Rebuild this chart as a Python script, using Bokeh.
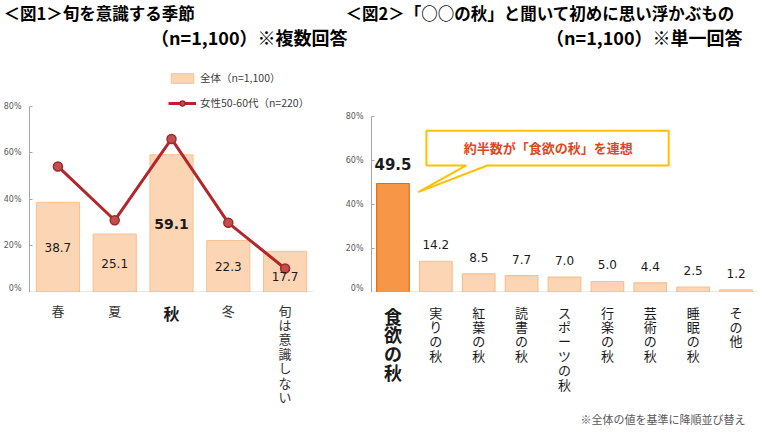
from bokeh.plotting import figure
from bokeh.models import (Range1d, FixedTicker, PrintfTickFormatter, Label,
                          Legend, LegendItem, PolyAnnotation)
from bokeh.layouts import row, column
from bokeh.embed import file_html
from bokeh.resources import INLINE

# ---------------- data ----------------
seasons = ["春", "夏", "秋", "冬", "旬は意識しない"]
season_all = [38.7, 25.1, 59.1, 22.3, 17.7]
season_women = [54.1, 31.0, 65.9, 29.9, 10.3]

autumn_items = ["食欲の秋", "実りの秋", "紅葉の秋", "読書の秋", "スポーツの秋",
                "行楽の秋", "芸術の秋", "睡眠の秋", "その他"]
autumn_values = [49.5, 14.2, 8.5, 7.7, 7.0, 5.0, 4.4, 2.5, 1.2]

pct_ticks = [0, 20, 40, 60, 80]

JP = "Noto Sans CJK JP"
NUM = "DejaVu Sans"
AXIS = "#A6A6A6"
LIGHT = "#FCD5B5"
LIGHT_LINE = "#F9C08F"
DARK = "#F79646"
DARK_LINE = "#E46C0A"

W1, W2 = 342, 417
H_TOP, H_CHART, H_LAB = 52, 240, 142
BL1, BR1 = 28, 29
BL2, BR2 = 28, 2


def text_fig(width, height, x_range=None, bl=0, br=0):
    xr = x_range if x_range is not None else Range1d(0, width)
    p = figure(width=width, height=height, x_range=xr,
               y_range=Range1d(height, 0), output_backend="svg",
               toolbar_location=None, x_axis_type=None, y_axis_type=None,
               min_border_left=bl, min_border_right=br,
               min_border_top=0, min_border_bottom=0)
    p.xgrid.visible = False
    p.ygrid.visible = False
    p.outline_line_color = None
    return p


def chart_fig(width, n, ymax, bl, br, standoff):
    p = figure(width=width, height=H_CHART, x_range=Range1d(0, n),
               y_range=Range1d(0, ymax), output_backend="svg",
               toolbar_location=None, min_border_left=bl, min_border_right=br,
               min_border_top=0, min_border_bottom=0)
    p.xgrid.visible = False
    p.ygrid.visible = False
    p.outline_line_color = None
    p.yaxis.ticker = FixedTicker(ticks=pct_ticks)
    p.yaxis.bounds = (0, 80)
    p.yaxis.formatter = PrintfTickFormatter(format="%d%%")
    p.yaxis.major_label_text_font = NUM
    p.yaxis.major_label_text_font_size = "8px"
    p.yaxis.major_label_text_color = "#595959"
    p.yaxis.major_label_standoff = standoff
    p.yaxis.axis_line_color = AXIS
    p.yaxis.major_tick_line_color = AXIS
    p.yaxis.major_tick_in = 3
    p.yaxis.major_tick_out = 0
    p.yaxis.minor_tick_line_color = None
    p.xaxis.ticker = FixedTicker(ticks=[])
    p.xaxis.axis_line_color = AXIS
    p.xaxis.axis_line_width = 1.5
    p.xaxis.major_label_text_font_size = "0px"
    p.xaxis.major_label_standoff = 0
    p.xaxis.major_tick_out = 0
    p.xaxis.major_tick_in = 0
    p.xaxis.minor_tick_line_color = None
    return p


def vertical(s):
    return "\n".join(list(s)) if len(s) > 1 else s


# ---------------- titles (one full-width strip) ----------------
top = text_fig(W1 + W2, H_TOP)
for x, txt in [(3, "＜図1＞旬を意識する季節"),
               (345, "＜図2＞「○○の秋」と聞いて初めに思い浮かぶもの")]:
    top.add_layout(Label(x=x, y=12, text=txt, text_baseline="middle",
                         text_font=JP, text_font_size="16.5px",
                         text_font_style="bold", text_color="#000000"))
for x, txt in [(347, "（n=1,100）※複数回答"), (742, "（n=1,100）※単一回答")]:
    top.add_layout(Label(x=x, y=36, text=txt, text_align="right",
                         text_baseline="middle", text_font=JP,
                         text_font_size="18px", text_font_style="bold",
                         text_color="#000000"))

# ---------------- chart 1 ----------------
n1 = len(seasons)
x1 = [i + 0.5 for i in range(n1)]
p1 = chart_fig(W1, n1, 103, BL1, BR1, 8)

bars1 = p1.vbar(x=x1, top=season_all, width=0.76, fill_color=LIGHT,
                line_color=LIGHT_LINE, line_width=1)
ln = p1.line(x1, season_women, line_color="#B3262C", line_width=3)
sc = p1.scatter(x1, season_women, size=9, fill_color="#C0504D",
                line_color="#A3262A", line_width=1.5)

legend = Legend(items=[LegendItem(label="全体（n=1,100）", renderers=[bars1]),
                       LegendItem(label="女性50-60代（n=220）", renderers=[ln, sc])],
                location=(139, 182), orientation="vertical",
                glyph_width=28, glyph_height=12, label_height=12,
                label_standoff=4, spacing=10, padding=0, margin=0,
                border_line_color=None, background_fill_alpha=0,
                label_text_font=JP, label_text_font_size="10.5px",
                label_text_color="#404040")
p1.add_layout(legend)

imax1 = season_all.index(max(season_all))
for i, v in enumerate(season_all):
    big = i == imax1
    p1.add_layout(Label(x=x1[i], y=v / 2, text=f"{v:.1f}", text_align="center",
                        text_baseline="middle", text_font=NUM,
                        text_font_size="14px" if big else "12px",
                        text_font_style="bold" if big else "normal",
                        text_color="#1a1a1a",
                        y_offset=-5 if i == n1 - 1 else 0))

l1 = text_fig(W1, H_LAB, x_range=p1.x_range, bl=BL1, br=BR1)
for i, s in enumerate(seasons):
    big = i == imax1
    l1.add_layout(Label(x=x1[i], y=8, text=vertical(s),
                        text_align="center", text_baseline="top",
                        text_line_height=0.76, text_font=JP,
                        text_font_size="16px" if big else "13px",
                        text_font_style="bold" if big else "normal",
                        text_color="#1a1a1a" if big else "#333333"))

# ---------------- chart 2 ----------------
n2 = len(autumn_items)
x2 = [i + 0.5 for i in range(n2)]
p2 = chart_fig(W2, n2, 109, BL2, BR2, 8)

imax2 = autumn_values.index(max(autumn_values))
fills = [DARK if i == imax2 else LIGHT for i in range(n2)]
lines = [DARK_LINE if i == imax2 else LIGHT_LINE for i in range(n2)]
p2.vbar(x=x2, top=autumn_values, width=0.76, fill_color=fills,
        line_color=lines, line_width=1.2)

for i, v in enumerate(autumn_values):
    big = i == imax2
    p2.add_layout(Label(x=x2[i], y=v, text=f"{v:.1f}", text_align="center",
                        text_baseline="bottom", text_font=NUM,
                        text_font_size="15px" if big else "12px",
                        text_font_style="bold" if big else "normal",
                        text_color="#1a1a1a", y_offset=14 if big else 12))

# callout pointing at the top bar
p2.add_layout(PolyAnnotation(xs=[1.28, 6.93, 6.93, 2.70, 1.09, 2.21, 1.28],
                             ys=[73.5, 73.5, 57.7, 57.7, 45.6, 57.7, 57.7],
                             fill_color="white", fill_alpha=1,
                             line_color="#FFC000", line_alpha=1, line_width=2))
p2.add_layout(Label(x=4.12, y=66, text="約半数が「食欲の秋」を連想",
                    text_align="center", text_baseline="middle", text_font=JP,
                    text_font_size="13px", text_font_style="bold",
                    text_color="#E2461B"))

l2 = text_fig(W2, H_LAB, x_range=p2.x_range, bl=BL2, br=BR2)
for i, s in enumerate(autumn_items):
    big = i == imax2
    l2.add_layout(Label(x=x2[i], y=10, text=vertical(s),
                        text_align="center", text_baseline="top",
                        text_line_height=0.73 if big else 0.76, text_font=JP,
                        text_font_size="18px" if big else "13px",
                        text_font_style="bold" if big else "normal",
                        text_color="#1a1a1a"))
l2.add_layout(Label(x=n2, y=126, x_offset=-12, text="※全体の値を基準に降順並び替え",
                    text_align="right", text_baseline="middle", text_font=JP,
                    text_font_size="11px", text_color="#595959"))

layout = column(top, row(column(p1, l1), column(p2, l2)))
open("out.html", "w").write(file_html(layout, INLINE))
